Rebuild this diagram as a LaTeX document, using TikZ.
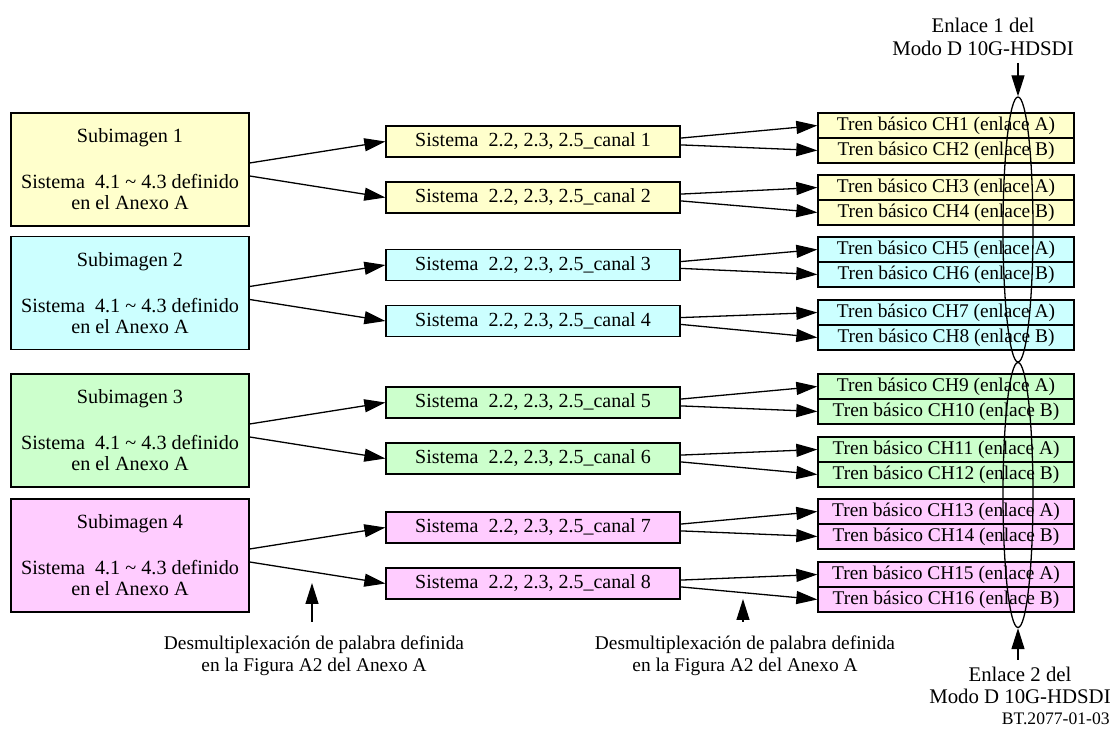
\documentclass[tikz,border=0pt]{standalone}
\usepackage{fontspec}
\setmainfont{Liberation Serif}
\usetikzlibrary{arrows.meta,shapes.geometric}

\definecolor{subyellow}{HTML}{FFFFCC}
\definecolor{subcyan}{HTML}{CCFFFF}
\definecolor{subgreen}{HTML}{CCFFCC}
\definecolor{subpink}{HTML}{FFCCFF}

\tikzset{
  subbox/.style={draw, line width=0.65pt, minimum width=119pt, minimum height=56.5pt,
    inner sep=0pt, align=center, font=\fontsize{10.1}{10.5}\selectfont},
  canalbox/.style={draw, line width=0.65pt, minimum width=147pt, minimum height=15.5pt,
    inner sep=0pt, font=\fontsize{10}{12}\selectfont},
  trenbox/.style={draw, line width=0.65pt, minimum width=128pt, minimum height=12.5pt,
    inner sep=0pt, font=\fontsize{9.7}{11}\selectfont},
  linkell/.style={draw, ellipse, line width=0.65pt, minimum width=15pt,
    minimum height=132.5pt, inner sep=0pt},
  arr/.style={-{Triangle[length=10.5pt,width=6.5pt]}, line width=0.65pt},
  note/.style={align=center, inner sep=0pt}
}

\begin{document}
\begin{tikzpicture}[x=0.5pt,y=-0.5pt]
\useasboundingbox (0,0) rectangle (1116,731);

% sub-images
\foreach \g/\col/\y in {1/subyellow/169.5, 2/subcyan/293, 3/subgreen/430.5, 4/subpink/555.5}
  \node[subbox, fill=\col] (sub\g) at (130,\y)
    {Subimagen \g\\[12.5pt]Sistema\ \ 4.1 \textasciitilde{} 4.3 definido\\en el Anexo A};

% system channels
\foreach \c/\col/\y in {1/subyellow/141.5, 2/subyellow/197.5, 3/subcyan/265, 4/subcyan/321,
    5/subgreen/402.5, 6/subgreen/458.5, 7/subpink/527.5, 8/subpink/583.5}
  \node[canalbox, fill=\col] (can\c) at (533,\y) {Sistema\ \ 2.2, 2.3, 2.5\_canal \c};

% basic streams
\foreach \t/\col/\y/\l in {1/subyellow/125.5/A, 2/subyellow/150.5/B, 3/subyellow/187.5/A, 4/subyellow/212.5/B,
    5/subcyan/249.5/A, 6/subcyan/274.5/B, 7/subcyan/312.5/A, 8/subcyan/337.5/B,
    9/subgreen/386.5/A, 10/subgreen/411.5/B, 11/subgreen/449.5/A, 12/subgreen/474.5/B,
    13/subpink/511.5/A, 14/subpink/536.5/B, 15/subpink/574.5/A, 16/subpink/599.5/B}
  \node[trenbox, fill=\col] (tren\t) at (946,\y) {Tren básico CH\t\ (enlace \l)};

% connectors
\foreach \g in {1,...,4}{
  \pgfmathtruncatemacro\ca{2*\g-1}
  \pgfmathtruncatemacro\cb{2*\g}
  \draw[arr] ([yshift=3.25pt]sub\g.east) -- (can\ca.west);
  \draw[arr] ([yshift=-3.25pt]sub\g.east) -- (can\cb.west);
}
\foreach \c in {1,...,8}{
  \pgfmathtruncatemacro\ta{2*\c-1}
  \pgfmathtruncatemacro\tb{2*\c}
  \draw[arr] ([yshift=1.7pt]can\c.east) -- (tren\ta.west);
  \draw[arr] ([yshift=-1.7pt]can\c.east) -- (tren\tb.west);
}

% links
\node[linkell] (lnk1) at (1018,229.5) {};
\node[linkell] (lnk2) at (1018,495) {};

\node[note, font=\fontsize{10.4}{11.5}\selectfont] (enl1) at (983,37) {Enlace 1 del\\Modo D 10G-HDSDI};
\coordinate (a1) at (1018,63);
\draw[arr] (a1) -- (lnk1.north);

\node[note, font=\fontsize{10.4}{11}\selectfont] (enl2) at (1020,685) {Enlace 2 del\\Modo D 10G-HDSDI};
\coordinate (a2) at (1018,660);
\draw[arr] (a2) -- (lnk2.south);

% demultiplexing notes
\node[note, font=\fontsize{9.7}{11}\selectfont] (desm1) at (314,656)
  {Desmultiplexación de palabra definida\\en la Figura A2 del Anexo A};
\coordinate (d1) at (312,622);
\coordinate (d1t) at (312,583);
\draw[arr] (d1) -- (d1t);

\node[note, font=\fontsize{9.7}{11}\selectfont] (desm2) at (745,656)
  {Desmultiplexación de palabra definida\\en la Figura A2 del Anexo A};
\coordinate (d2) at (743,622);
\coordinate (d2t) at (743,599);
\draw[arr] (d2) -- (d2t);

\node[note, anchor=east, font=\fontsize{8.8}{10}\selectfont] (fig) at (1110,719) {BT.2077-01-03};
\end{tikzpicture}
\end{document}
